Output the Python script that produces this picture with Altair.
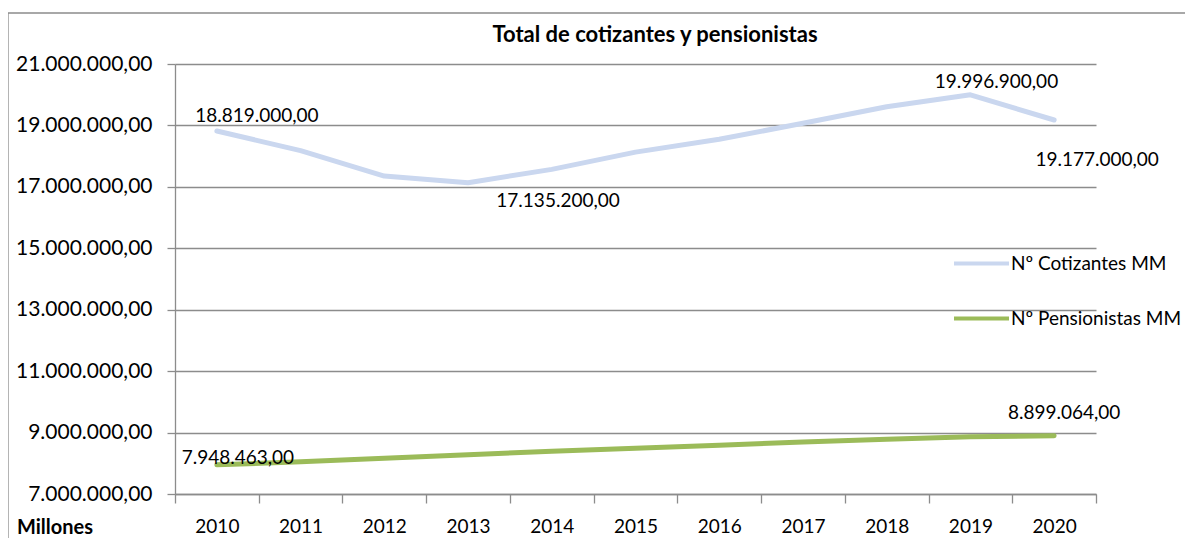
import altair as alt
import pandas as pd

years = ["2010", "2011", "2012", "2013", "2014", "2015", "2016", "2017", "2018", "2019", "2020"]
cotizantes = [18819000, 18180000, 17350000, 17135200, 17570000, 18130000,
              18550000, 19070000, 19610000, 19996900, 19177000]
pensionistas = [7948463, 8050000, 8160000, 8280000, 8390000, 8490000,
                8590000, 8690000, 8780000, 8860000, 8899064]
series_names = ["Nº Cotizantes MM", "Nº Pensionistas MM"]
series_colors = ["#CAD7EF", "#9BBB59"]
y_ticks = [7000000, 9000000, 11000000, 13000000, 15000000, 17000000, 19000000, 21000000]
title_text = "Total de cotizantes y pensionistas"
unit_text = "Millones"


def es_fmt(v):
    s = f"{v:,.2f}"
    return s.replace(",", "#").replace(".", ",").replace("#", ".")


rows = []
for name, vals in zip(series_names, [cotizantes, pensionistas]):
    for yr, v in zip(years, vals):
        rows.append({"series": name, "year": yr, "value": v, "label": es_fmt(v)})
df = pd.DataFrame(rows)

W, H = 921, 430
GRID = "#8C8C8C"
FONT = "Lato"

x_enc = alt.X(
    "year:N", sort=years, bandPosition=0.5,
    scale=alt.Scale(type="band", paddingInner=0, paddingOuter=0),
    axis=alt.Axis(title=None, labelAngle=0, tickBand="extent", tickSize=9,
                  tickColor=GRID, domainColor=GRID, domainWidth=1.3, tickWidth=1.3,
                  labelFontSize=19, labelColor="black", labelPadding=14, grid=False),
)
y_enc = alt.Y(
    "value:Q", scale=alt.Scale(domain=[7000000, 21000000], nice=False, zero=False),
    axis=alt.Axis(title=None, values=y_ticks, grid=True, gridColor=GRID, gridWidth=1.3,
                  domainColor=GRID, domainWidth=1.3, tickColor=GRID, tickWidth=1.3, tickSize=8,
                  labelFontSize=21, labelColor="black", labelPadding=15,
                  labelExpr="replace(format(datum.value, ',.0f'), regexp(',', 'g'), '.') + ',00'"),
)

base = alt.Chart(df)
one_row = "datum.year == '2010' && datum.series == 'Nº Cotizantes MM'"

border = base.mark_rect(fill=None, stroke=GRID, strokeWidth=1.3).encode(
    x=alt.value(-167), x2=alt.value(1300), y=alt.value(-51), y2=alt.value(700)
).transform_filter(one_row)

lines = base.mark_line(strokeWidth=5, strokeCap="round", strokeJoin="round").encode(
    x=x_enc, y=y_enc,
    color=alt.Color("series:N", scale=alt.Scale(domain=series_names, range=series_colors),
                    legend=alt.Legend(title=None, orient="none", legendX=777, legendY=170,
                                      symbolType="stroke", symbolSize=3025, symbolStrokeWidth=4,
                                      labelFontSize=19, labelColor="black", labelOffset=0,
                                      labelLimit=400, rowPadding=15, padding=0, labelFont=FONT)),
)


def label(series, year, dx, dy):
    return base.transform_filter(
        f"datum.series == '{series}' && datum.year == '{year}'"
    ).mark_text(fontSize=19, color="black", dx=dx, dy=dy, font=FONT).encode(
        x=x_enc, y=y_enc, text="label:N")


labels = [
    label(series_names[0], "2010", 40, -15),
    label(series_names[0], "2013", 90, 18),
    label(series_names[0], "2019", 26, -13),
    label(series_names[0], "2020", 43, 40),
    label(series_names[1], "2010", 21, -7),
    label(series_names[1], "2020", 10, -23),
]

unit = base.mark_text(fontSize=20, fontWeight="bold", color="black", align="left",
                      baseline="middle", font=FONT).encode(
    x=alt.value(-158), y=alt.value(464), text=alt.value(unit_text)
).transform_filter(one_row)

title = base.mark_text(fontSize=22, fontWeight="bold", color="black", align="center",
                       baseline="middle", font=FONT).encode(
    x=alt.value(480), y=alt.value(-29), text=alt.value(title_text)
).transform_filter(one_row)

chart = alt.layer(border, lines, *labels, unit, title).properties(
    width=W, height=H,
    autosize=alt.AutoSizeParams(type="none"),
    padding={"left": 167, "top": 56, "right": 89, "bottom": 44},
).configure(font=FONT).configure_view(stroke=None)

chart.save("out.html", embed_options={"renderer": "svg", "actions": False})
